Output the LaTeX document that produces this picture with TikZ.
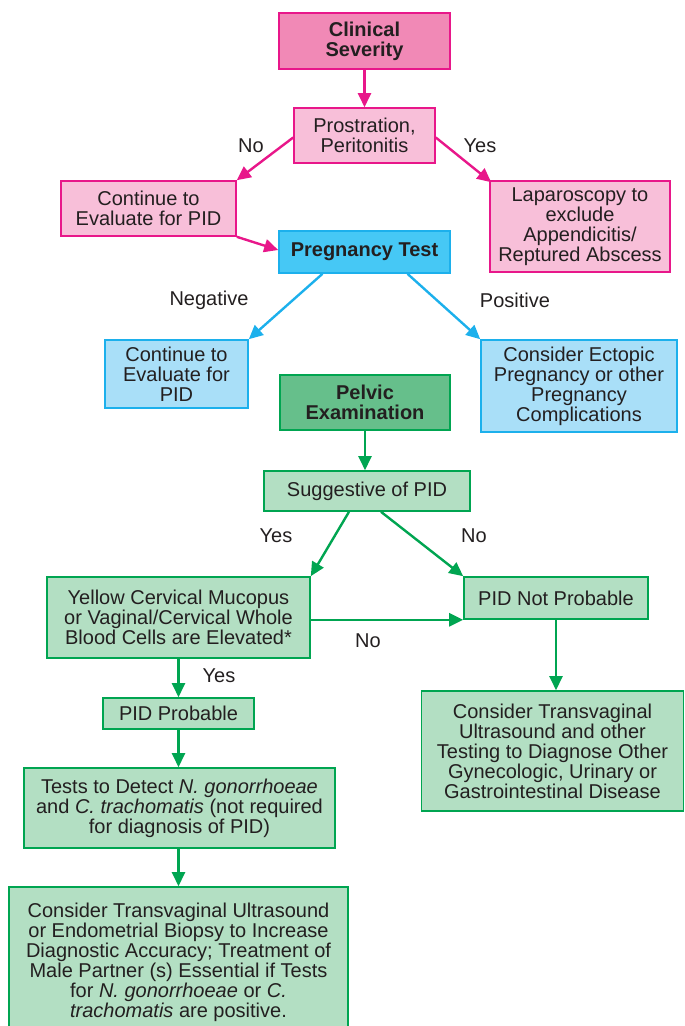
\documentclass[tikz,border=0pt]{standalone}
\usepackage{fontspec}
\setmainfont{Liberation Sans}
\usetikzlibrary{arrows.meta,calc}

\definecolor{txt}{HTML}{231F20}
\definecolor{mag}{HTML}{E8178A}
\definecolor{pinkD}{HTML}{F189B6}
\definecolor{pinkL}{HTML}{F8BFD9}
\definecolor{cyanL}{HTML}{1CB0EC}
\definecolor{cyanD}{HTML}{46C8F5}
\definecolor{cyanF}{HTML}{A9DFF8}
\definecolor{grn}{HTML}{00A551}
\definecolor{grnD}{HTML}{66BF8B}
\definecolor{grnL}{HTML}{B3DFC3}

\tikzset{
  x=1pt, y=-1pt,
  every node/.style={text=txt, font=\fontsize{20}{20}\selectfont, align=center, inner sep=0pt},
  box/.style={draw, line width=1.6pt, rectangle, minimum width=#1},
  pinkhead/.style={box=#1, draw=mag, fill=pinkD, font=\fontsize{20}{20}\selectfont\bfseries},
  pinkbox/.style={box=#1, draw=mag, fill=pinkL},
  cyanhead/.style={box=#1, draw=cyanL, fill=cyanD, font=\fontsize{20}{20}\selectfont\bfseries},
  cyanbox/.style={box=#1, draw=cyanL, fill=cyanF},
  grnhead/.style={box=#1, draw=grn, fill=grnD, font=\fontsize{20}{20}\selectfont\bfseries},
  grnbox/.style={box=#1, draw=grn, fill=grnL},
  arr/.style={line width=2.4pt, -{Triangle[length=14pt,width=13pt]}},
  pinkarr/.style={arr, draw=mag, fill=mag},
  cyanarr/.style={arr, draw=cyanL, fill=cyanL},
  grnarr/.style={arr, draw=grn, fill=grn},
  lbl/.style={}
}

\begin{document}
\begin{tikzpicture}
\useasboundingbox (0,0) rectangle (685,1026);

% severity branch
\node[pinkhead=171, minimum height=56] (cs) at (364.5,41) {Clinical\\Severity};
\node[pinkbox=141, minimum height=55] (pp) at (364.5,135.5) {Prostration,\\Peritonitis};
\node[pinkbox=175, minimum height=55] (cp) at (148.5,208.5) {Continue to\\Evaluate for PID};
\node[pinkbox=180, minimum height=91] (lap) at (580,226.5) {Laparoscopy to\\exclude\\Appendicitis/\\Reptured Abscess};

% pregnancy branch
\node[cyanhead=171, minimum height=42] (pt) at (364.5,252) {Pregnancy Test};
\node[cyanbox=143, minimum height=68] (cb) at (176.5,374) {Continue to\\Evaluate for\\PID};
\node[cyanbox=196, minimum height=92] (ce) at (579,386) {Consider Ectopic\\Pregnancy or other\\Pregnancy\\Complications};

% pelvic examination branch
\node[grnhead=170, minimum height=55] (pe) at (365,402.5) {Pelvic\\Examination};
\node[grnbox=206, minimum height=40] (sp) at (367,491) {Suggestive of PID};
\node[grnbox=263, minimum height=81] (yc) at (178.5,617.5) {Yellow Cervical Mucopus\\or Vaginal/Cervical Whole\\Blood Cells are Elevated*};
\node[grnbox=184, minimum height=42] (pnp) at (556,598) {PID Not Probable};
\node[grnbox=262, minimum height=120] (ctr) at (552.5,751) {Consider Transvaginal\\Ultrasound and other\\Testing to Diagnose Other\\Gynecologic, Urinary or\\Gastrointestinal Disease};
\node[grnbox=151, minimum height=31] (ppr) at (178.5,713.5) {PID Probable};
\node[grnbox=311, minimum height=80] (td) at (179.5,808) {Tests to Detect \textit{N. gonorrhoeae}\\and \textit{C. trachomatis} (not required\\for diagnosis of PID)};
\node[grnbox=339, minimum height=150] (fin) at (178.5,962) {Consider Transvaginal Ultrasound\\or Endometrial Biopsy to Increase\\Diagnostic Accuracy; Treatment of\\Male Partner (s) Essential if Tests\\for \textit{N. gonorrhoeae} or \textit{C.}\\\textit{trachomatis} are positive.};

% connectors
\draw[pinkarr] (cs.south) -- (pp.north);
\draw[pinkarr] ($(pp.west)+(0,2)$) -- (cp.north east);
\draw[pinkarr] ($(pp.east)+(0,2)$) -- ($(lap.north west)+(2,2)$);
\draw[pinkarr] (cp.south east) -- ($(pt.west)+(0,-2)$);

\draw[cyanarr] ($(pt.south)+(-42,0)$) -- (cb.north east);
\draw[cyanarr] ($(pt.south)+(43,0)$) -- (ce.north west);

\draw[grnarr] (pe.south) -- (pe.south |- sp.north);
\draw[grnarr] ($(sp.south)+(-18,0)$) -- (yc.north east);
\draw[grnarr] ($(sp.south)+(14,0)$) -- (pnp.north west);
\draw[grnarr] (yc.east |- pnp.south west) -- (pnp.south west);
\draw[grnarr] (yc.south) -- (yc.south |- ppr.north);
\draw[grnarr] (ppr.south) -- (ppr.south |- td.north);
\draw[grnarr] (ppr.south |- td.south) -- (ppr.south |- fin.north);
\draw[grnarr] (pnp.south) -- (pnp.south |- ctr.north);

% branch labels
\node[lbl] (l1) at (251,146) {No};
\node[lbl] (l2) at (480,146) {Yes};
\node[lbl] (l3) at (209,300) {Negative};
\node[lbl] (l4) at (515,300) {Positive};
\node[lbl] (l5) at (276,536) {Yes};
\node[lbl] (l6) at (474,536) {No};
\node[lbl] (l7) at (368,641) {No};
\node[lbl] (l8) at (219,676) {Yes};
\end{tikzpicture}
\end{document}
